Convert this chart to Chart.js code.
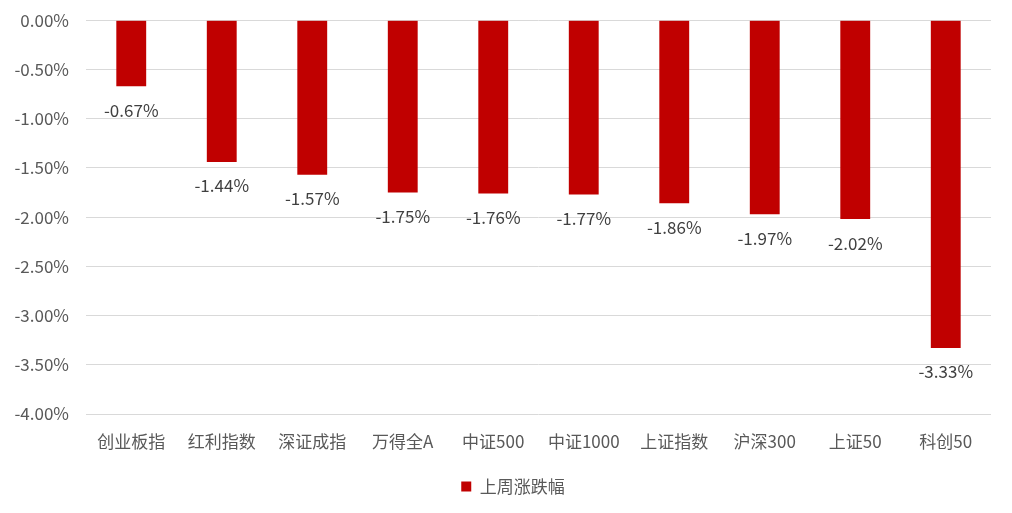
<!DOCTYPE html>
<html><head><meta charset="utf-8">
<script src="https://cdn.jsdelivr.net/npm/chart.js@4/dist/chart.umd.min.js"></script>
<style>html,body{margin:0;padding:0;background:#fff}#wrap{width:1012px;height:513px}</style>
</head><body><div id="wrap"><canvas id="c" width="1012" height="513"></canvas></div>
<script>
const categories = ['创业板指','红利指数','深证成指','万得全A','中证500','中证1000','上证指数','沪深300','上证50','科创50'];
const values = [-0.67,-1.44,-1.57,-1.75,-1.76,-1.77,-1.86,-1.97,-2.02,-3.33];
const seriesName = '上周涨跌幅';
const FONT = "'Noto Sans CJK SC','Microsoft YaHei',sans-serif";

const labelPlugin = {
  id:'valLabels',
  afterLayout(chart){
    if (chart.legend) { chart.legend.left = 35; }
  },
  afterDatasetsDraw(chart){
    const ctx = chart.ctx;
    const meta = chart.getDatasetMeta(0);
    ctx.save();
    ctx.font = '17px ' + FONT;
    ctx.fillStyle = '#404040';
    ctx.textAlign = 'center';
    ctx.textBaseline = 'middle';
    meta.data.forEach((bar,i)=>{
      ctx.fillText(values[i].toFixed(2)+'%', bar.x, bar.y + 24);
    });
    ctx.restore();
  }
};

new Chart(document.getElementById('c'), {
  type:'bar',
  data:{labels:categories, datasets:[{label:seriesName, data:values, backgroundColor:'#C00000', borderWidth:0, barPercentage:0.33, categoryPercentage:1}]},
  options:{
    responsive:false, animation:false,
    layout:{padding:{left:0,right:21,top:0,bottom:8}},
    plugins:{
      legend:{position:'bottom', labels:{boxWidth:10, boxHeight:10, color:'#595959', font:{family:FONT,size:17}, padding:10}},
      tooltip:{enabled:false}
    },
    scales:{
      x:{grid:{display:false}, border:{display:false},
         ticks:{color:'#595959', font:{family:FONT,size:17}, padding:9, maxRotation:0},
         afterFit(s){ s.height = 54; }},
      y:{min:-4, max:0, border:{display:false},
         grid:{color:'#D9D9D9', lineWidth:1, drawTicks:true, tickLength:7, tickColor:'rgba(0,0,0,0)'},
         ticks:{stepSize:0.5, color:'#595959', font:{family:FONT,size:17}, padding:10,
                callback:v=>v.toFixed(2)+'%'},
         afterFit(s){ s.width = 86; }}
    }
  },
  plugins:[labelPlugin]
});
</script></body></html>
